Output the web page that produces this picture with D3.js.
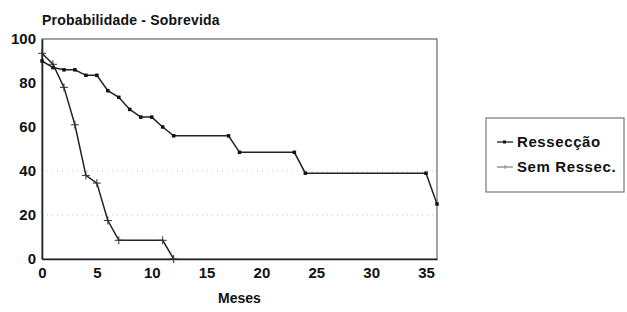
<!DOCTYPE html>
<html>
<head>
<meta charset="utf-8">
<script src="https://cdn.jsdelivr.net/npm/d3@7"></script>
<style>
  body { margin: 0; background: #fff; }
  text { font-family: "Liberation Sans", Arial, sans-serif; font-weight: bold; fill: #111; }
</style>
</head>
<body>
<div id="chart"></div>
<script>
var svgWidth = 627;
var svgHeight = 312;

var margin = { top: 39, right: 190, bottom: 53, left: 42 };
var width = 395;
var height = 220;

// Data
var mesesRessec = [0, 1, 2, 3, 4, 5, 6, 7, 8, 9, 10, 11, 12, 17, 18, 23, 24, 35, 36];
var probRessec = [90, 87, 86, 86, 83.5, 83.5, 76.5, 73.5, 68, 64.5, 64.5, 60, 56, 56, 48.5, 48.5, 39, 39, 25];

var mesesSem = [0, 1, 2, 3, 4, 5, 6, 7, 11, 12];
var probSem = [93.5, 88.5, 78, 61, 38, 34.5, 17.5, 8.5, 8.5, 0];

var xTicks = [0, 5, 10, 15, 20, 25, 30, 35];
var yTicks = [0, 20, 40, 60, 80, 100];
var gridValues = [20, 40];
var seriesNames = ["Ressecção", "Sem Ressec."];

var svg = d3.select("#chart")
  .append("svg")
  .attr("width", svgWidth)
  .attr("height", svgHeight);

var chartGroup = svg.append("g")
  .attr("transform", `translate(${margin.left}, ${margin.top})`);

var xScale = d3.scaleLinear().domain([0, 36]).range([0, width]);
var yScale = d3.scaleLinear().domain([0, 100]).range([height, 0]);

// faint dotted gridlines
chartGroup.selectAll(".grid")
  .data(gridValues)
  .enter()
  .append("line")
  .attr("x1", xScale(0))
  .attr("x2", xScale(36))
  .attr("y1", d => yScale(d))
  .attr("y2", d => yScale(d))
  .attr("stroke", "#c4c4c4")
  .attr("stroke-width", 1)
  .attr("stroke-dasharray", "1,4");

// frame
chartGroup.append("rect")
  .attr("x", 0)
  .attr("y", 0)
  .attr("width", width)
  .attr("height", height)
  .attr("fill", "none")
  .attr("stroke", "#666")
  .attr("stroke-width", 1.2);

// axes
var bottomAxis = d3.axisBottom(xScale).tickValues(xTicks).tickSize(0).tickPadding(8);
var leftAxis = d3.axisLeft(yScale).tickValues(yTicks).tickSize(0).tickPadding(6);

var xAxisG = chartGroup.append("g")
  .attr("transform", `translate(0, ${height})`)
  .call(bottomAxis);
var yAxisG = chartGroup.append("g").call(leftAxis);

[xAxisG, yAxisG].forEach(function(g) {
  g.select(".domain").attr("stroke", "#222").attr("stroke-width", 1.6);
  g.selectAll("text")
    .attr("font-size", 15)
    .attr("font-family", "Liberation Sans, Arial, sans-serif")
    .attr("font-weight", "bold")
    .attr("fill", "#111");
});

var line = d3.line()
  .x(d => xScale(d[0]))
  .y(d => yScale(d[1]));

var ressec = d3.zip(mesesRessec, probRessec);
var sem = d3.zip(mesesSem, probSem);

chartGroup.append("path")
  .datum(sem)
  .attr("fill", "none")
  .attr("stroke", "#222")
  .attr("stroke-width", 1.5)
  .attr("d", line);

chartGroup.append("path")
  .datum(ressec)
  .attr("fill", "none")
  .attr("stroke", "#222")
  .attr("stroke-width", 1.5)
  .attr("d", line);

// square markers
chartGroup.selectAll(".sq")
  .data(ressec)
  .enter()
  .append("rect")
  .attr("x", d => xScale(d[0]) - 1.75)
  .attr("y", d => yScale(d[1]) - 1.75)
  .attr("width", 3.5)
  .attr("height", 3.5)
  .attr("fill", "#111");

// cross markers
var cross = chartGroup.selectAll(".cr")
  .data(sem)
  .enter()
  .append("g")
  .attr("transform", d => `translate(${xScale(d[0])}, ${yScale(d[1])})`);
cross.append("line").attr("x1", -4).attr("x2", 4).attr("stroke", "#333").attr("stroke-width", 1);
cross.append("line").attr("y1", -4).attr("y2", 4).attr("stroke", "#333").attr("stroke-width", 1);

// title and axis label
svg.append("text")
  .attr("x", 42)
  .attr("y", 25)
  .attr("font-size", 14)
  .attr("letter-spacing", 0.2)
  .text("Probabilidade - Sobrevida");

svg.append("text")
  .attr("x", margin.left + width / 2)
  .attr("y", 303)
  .attr("text-anchor", "middle")
  .attr("font-size", 14)
  .text("Meses");

// legend
var legend = svg.append("g").attr("transform", "translate(486, 118)");
legend.append("rect")
  .attr("width", 138)
  .attr("height", 74)
  .attr("fill", "#fff")
  .attr("stroke", "#777")
  .attr("stroke-width", 1.2);

var items = legend.selectAll(".item")
  .data(seriesNames)
  .enter()
  .append("g")
  .attr("transform", (d, i) => `translate(0, ${24 + i * 25})`);
items.append("line")
  .attr("x1", 11).attr("x2", 27)
  .attr("stroke", (d, i) => i === 0 ? "#222" : "#888")
  .attr("stroke-width", 1.3);
items.filter((d, i) => i === 0).append("rect")
  .attr("x", 17).attr("y", -1.5).attr("width", 3).attr("height", 3).attr("fill", "#111");
items.filter((d, i) => i === 1).append("line")
  .attr("x1", 19).attr("x2", 19).attr("y1", -2).attr("y2", 2).attr("stroke", "#888");
items.append("text")
  .attr("x", 31)
  .attr("y", 5)
  .attr("font-size", 15)
  .attr("letter-spacing", 0.6)
  .text(d => d);
</script>
</body>
</html>
